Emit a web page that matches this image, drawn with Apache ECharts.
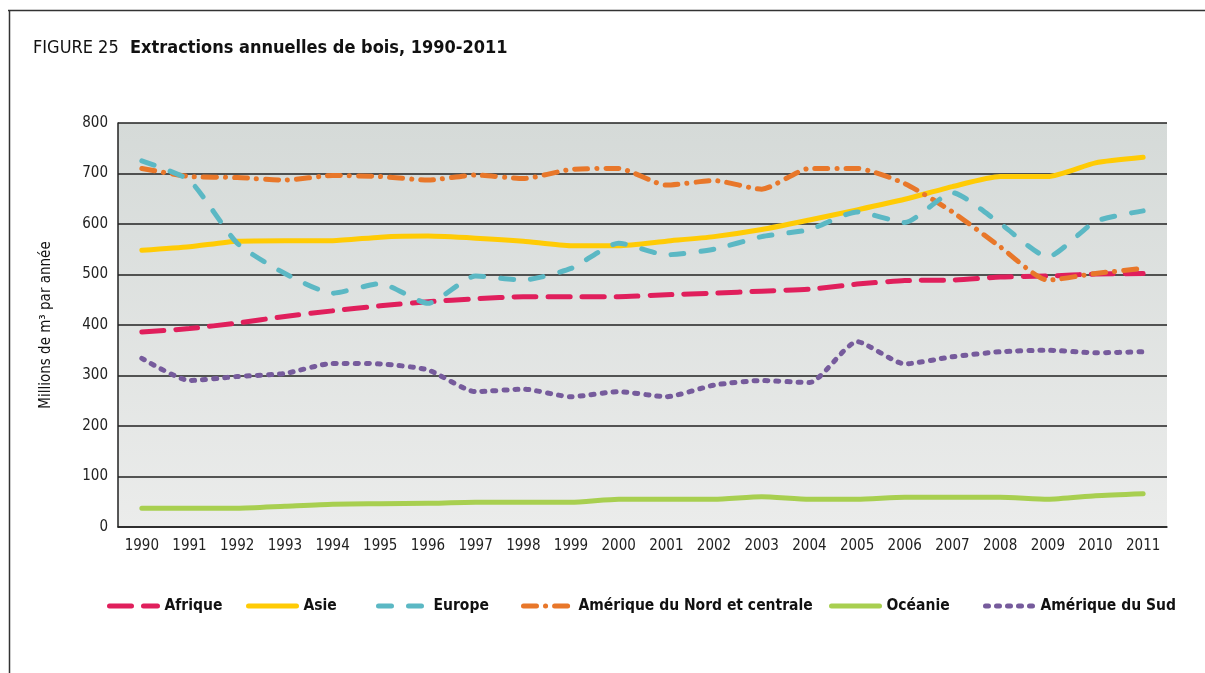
<!DOCTYPE html>
<html>
<head>
<meta charset="utf-8">
<script src="https://cdn.jsdelivr.net/npm/echarts@6/dist/echarts.min.js"></script>
<style>
  html, body { margin: 0; padding: 0; background: #fff; }
  #chart { width: 1205px; height: 673px; }
</style>
</head>
<body>
<div id="chart"></div>
<script>
const years = ["1990", "1991", "1992", "1993", "1994", "1995", "1996", "1997", "1998", "1999", "2000",
  "2001", "2002", "2003", "2004", "2005", "2006", "2007", "2008", "2009", "2010", "2011"];

const afrique = [386, 393, 404, 417, 428, 438, 446, 452, 456, 456, 456, 460, 463, 467, 471, 481, 488, 489, 495, 497, 501, 502];
const asie = [548, 555, 566, 567, 567, 574, 576, 572, 566, 557, 557, 566, 575, 589, 608, 628, 649, 674, 694, 694, 721, 732];
const europe = [725, 686, 562, 502, 463, 482, 443, 497, 489, 512, 562, 539, 550, 575, 589, 624, 603, 662, 601, 535, 605, 626];
const ameriqueNord = [710, 694, 692, 687, 696, 694, 687, 697, 690, 708, 710, 677, 686, 669, 710, 710, 680, 624, 555, 489, 502, 512];
const oceanie = [37, 37, 37, 41, 45, 46, 47, 49, 49, 49, 55, 55, 55, 60, 55, 55, 59, 59, 59, 55, 62, 66];
const ameriqueSud = [334, 290, 298, 304, 324, 323, 311, 268, 273, 258, 268, 258, 281, 290, 286, 367, 323, 337, 347, 350, 345, 347];

const yTicks = [0, 100, 200, 300, 400, 500, 600, 700, 800];

const FONT = "'Liberation Sans Narrow', 'DejaVu Sans Condensed', 'Roboto', sans-serif";

// name, data, color, dash, legend left position
const SERIES = [
  { name: "Afrique", data: afrique, color: "#e01f5c", dash: [22, 12], left: 107 },
  { name: "Asie", data: asie, color: "#ffcb05", dash: "solid", left: 246 },
  { name: "Europe", data: europe, color: "#5bb8c4", dash: [13, 17], left: 376, z: 4 },
  { name: "Amérique du Nord et centrale", data: ameriqueNord, color: "#e8772a", dash: [13, 9, 0.1, 9], left: 521 },
  { name: "Océanie", data: oceanie, color: "#a8cf50", dash: "solid", left: 829 },
  { name: "Amérique du Sud", data: ameriqueSud, color: "#765b9c", dash: [3, 8], left: 983 },
];

const chart = echarts.init(document.getElementById("chart"));

chart.setOption({
  animation: false,
  backgroundColor: "#fff",
  textStyle: { fontFamily: FONT },
  title: {
    left: 28,
    top: 34,
    text: "{a|FIGURE 25}  {b|Extractions annuelles de bois, 1990-2011}",
    textStyle: {
      rich: {
        a: { fontFamily: FONT, fontSize: 18, color: "#111", fontWeight: "normal" },
        b: { fontFamily: FONT, fontSize: 18, color: "#111", fontWeight: "bold" },
      },
    },
  },
  graphic: [
    { type: "line", shape: { x1: 8, y1: 10.5, x2: 1205, y2: 10.5 }, style: { stroke: "#333", lineWidth: 1.5 } },
    { type: "line", shape: { x1: 9.5, y1: 10, x2: 9.5, y2: 673 }, style: { stroke: "#333", lineWidth: 1.5 } },
  ],
  legend: SERIES.map((s) => ({
    data: [s.name],
    left: s.left - 5,
    top: 593,
    itemWidth: 48,
    itemHeight: 6,
    itemGap: 0,
    itemStyle: { opacity: 0 },
    lineStyle: { width: 5, cap: "round" },
    textStyle: { fontFamily: FONT, fontSize: 15.5, fontWeight: "bold", color: "#111", padding: [0, 0, 0, 2] },
  })),
  grid: {
    left: 118,
    top: 123,
    right: 38,
    bottom: 146,
    show: true,
    borderWidth: 0,
    backgroundColor: new echarts.graphic.LinearGradient(0, 0, 0, 1, [
      { offset: 0, color: "#d5dad8" },
      { offset: 1, color: "#ebeceb" },
    ]),
  },
  xAxis: {
    type: "category",
    data: years,
    boundaryGap: true,
    axisLine: { lineStyle: { color: "#222", width: 1.5 } },
    axisTick: { show: false },
    axisLabel: { color: "#222", fontSize: 15, margin: 12, fontFamily: FONT, interval: 0 },
  },
  yAxis: {
    type: "value",
    min: yTicks[0],
    max: yTicks[yTicks.length - 1],
    interval: 100,
    name: "Millions de m³ par année",
    nameLocation: "middle",
    nameGap: 64,
    nameTextStyle: { color: "#111", fontSize: 15, fontFamily: FONT },
    axisLine: { show: true, lineStyle: { color: "#222", width: 1.5 } },
    axisTick: { show: false },
    axisLabel: { color: "#222", fontSize: 15, margin: 10, fontFamily: FONT },
    splitLine: { lineStyle: { color: "#222", width: 1.5 } },
  },
  series: SERIES.map((s) => ({
    name: s.name,
    type: "line",
    data: s.data,
    symbol: "none",
    smooth: 0.2,
    z: s.z || 2,
    color: s.color,
    lineStyle: { color: s.color, width: 5, type: s.dash, cap: "round", join: "round" },
  })),
});
</script>
</body>
</html>
